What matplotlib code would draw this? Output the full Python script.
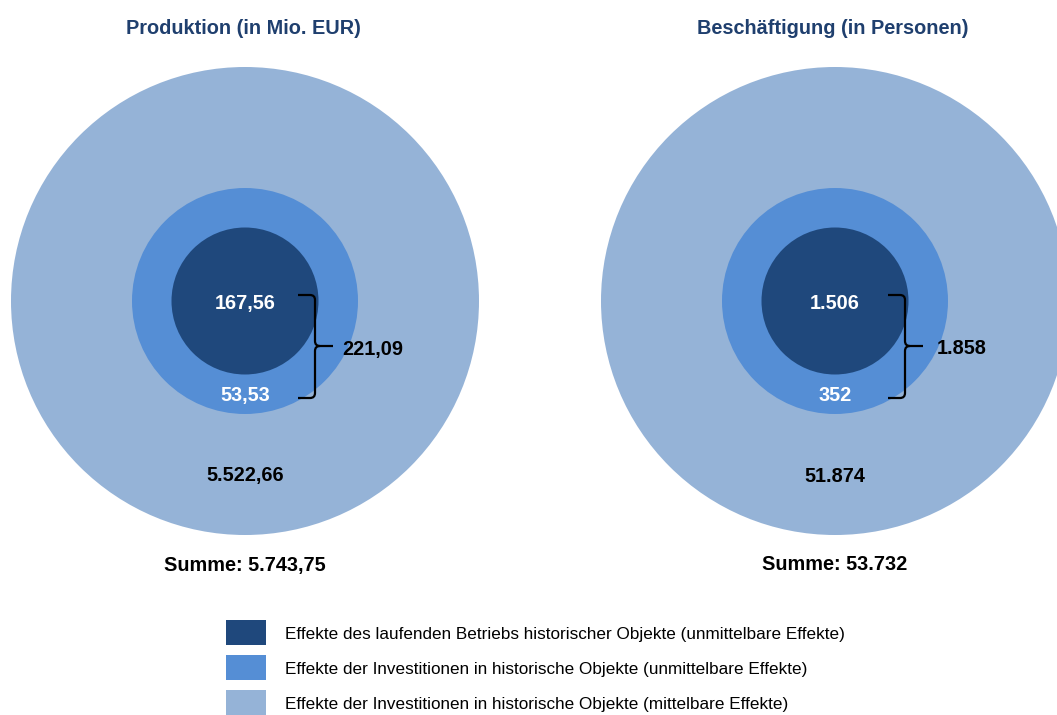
import matplotlib
matplotlib.use("Agg")
import matplotlib.pyplot as plt
from matplotlib.patches import Circle, Rectangle
from matplotlib.path import Path
from matplotlib.patches import PathPatch

plt.rcParams['font.family'] = ['Liberation Sans', 'DejaVu Sans']

# daten
titles = ["Produktion (in Mio. EUR)", "Beschäftigung (in Personen)"]
betrieb = [167.56, 1506]          # laufender Betrieb (unmittelbar)
invest_unm = [53.53, 352]         # Investitionen (unmittelbar)
invest_mit = [5522.66, 51874]     # Investitionen (mittelbar)
decimals = [2, 0]
legend_labels = [
    "Effekte des laufenden Betriebs historischer Objekte (unmittelbare Effekte)",
    "Effekte der Investitionen in historische Objekte (unmittelbare Effekte)",
    "Effekte der Investitionen in historische Objekte (mittelbare Effekte)",
]
colors = ["#1F487C", "#558ED5", "#95B3D7"]


def de_fmt(v, nd):
    # deutsches Zahlenformat: 5.743,75
    s = f"{v:,.{nd}f}"
    return s.replace(",", "X").replace(".", ",").replace("X", ".")


fig = plt.figure(figsize=(10.57, 7.15), dpi=100)
ax = fig.add_axes([0, 0, 1, 1])
ax.set_xlim(0, 1057)
ax.set_ylim(715, 0)
ax.axis("off")

centers = [245, 835]
brace_lab_dx = [97, 102]
cy = 301
radii = [234, 113, 73.5]
fs = 14.3

for i, cx in enumerate(centers):
    # kreise von aussen nach innen
    for r, c in zip(radii, colors[::-1]):
        ax.add_patch(Circle((cx, cy), r, facecolor=c, edgecolor="none"))

    nd = decimals[i]
    direkt = betrieb[i] + invest_unm[i]
    summe = direkt + invest_mit[i]

    ax.text(cx - 2, 28, titles[i], ha="center", va="center", fontsize=fs,
            fontweight="bold", color="#1F3F6E")
    ax.text(cx, 303.5, de_fmt(betrieb[i], nd), ha="center", va="center",
            fontsize=fs, fontweight="bold", color="white")
    ax.text(cx, 395.5, de_fmt(invest_unm[i], nd), ha="center", va="center",
            fontsize=fs, fontweight="bold", color="white")
    ax.text(cx, 476, de_fmt(invest_mit[i], nd), ha="center", va="center",
            fontsize=fs, fontweight="bold", color="black")
    ax.text(cx, 565, "Summe: " + de_fmt(summe, nd), ha="center", va="center",
            fontsize=fs, fontweight="bold", color="black")
    ax.text(cx + brace_lab_dx[i], 349, de_fmt(direkt, nd), ha="left",
            va="center", fontsize=fs, fontweight="bold", color="black")

    # geschweifte klammer
    x0, xv, xt = cx + 53, cx + 70, cx + 88
    yt, ym, yb = 295, 346, 398
    verts = [(x0, yt), (xv - 5, yt), (xv, yt), (xv, yt + 5),
             (xv, ym - 5), (xv, ym), (xv + 5, ym), (xt, ym),
             (xv + 5, ym), (xv, ym), (xv, ym + 5),
             (xv, yb - 5), (xv, yb), (xv - 5, yb), (x0, yb)]
    codes = [Path.MOVETO, Path.LINETO, Path.CURVE3, Path.CURVE3,
             Path.LINETO, Path.CURVE3, Path.CURVE3, Path.LINETO,
             Path.MOVETO, Path.CURVE3, Path.CURVE3,
             Path.LINETO, Path.CURVE3, Path.CURVE3, Path.LINETO]
    ax.add_patch(PathPatch(Path(verts, codes), facecolor="none",
                           edgecolor="black", lw=1.6))

# legende
for k, (lab, c) in enumerate(zip(legend_labels, colors)):
    top = 620 + 35 * k
    ax.add_patch(Rectangle((226, top), 40, 25, facecolor=c, edgecolor="none"))
    ax.text(285, top + 14.5, lab, ha="left", va="center", fontsize=12.3,
            color="black")

fig.savefig("out.png", dpi=100)
